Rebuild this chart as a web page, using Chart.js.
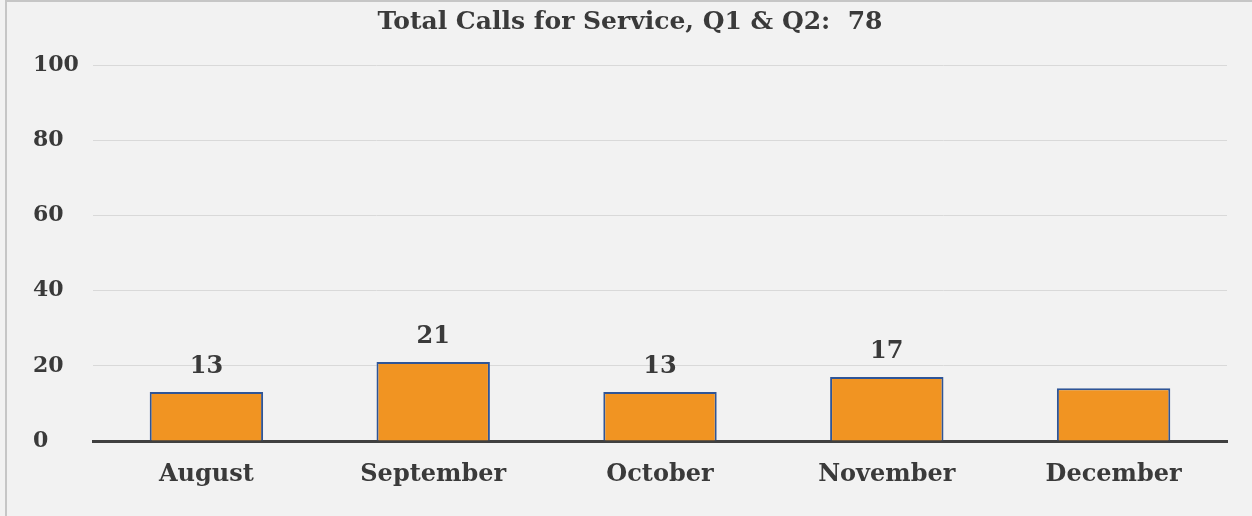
<!DOCTYPE html>
<html>
<head>
<meta charset="utf-8">
<script src="https://cdn.jsdelivr.net/npm/chart.js@4"></script>
<style>
  html, body { margin: 0; padding: 0; background: #f2f2f2; overflow: hidden; }
  #wrap { position: relative; width: 1252px; height: 516px; }
  #frame { position: absolute; left: 5px; top: 0; width: 1247px; height: 516px;
           border-left: 2px solid #c6c6c6; border-top: 2px solid #c6c6c6; box-sizing: border-box; pointer-events: none; }
  canvas { position: absolute; left: 0; top: 0; }
</style>
</head>
<body>
<div id="wrap">
  <canvas id="myChart" width="1252" height="516"></canvas>
  <div id="frame"></div>
</div>
<script>
var months = ['August', 'September', 'October', 'November', 'December'];
var calls = [13, 21, 13, 17, 14];
var valueLabels = ['13', '21', '13', '17', null];
var yTicks = [0, 20, 40, 60, 80, 100];
var chartTitle = 'Total Calls for Service, Q1 & Q2:  78';

var textColor = '#3a3a3a';
var fontFamily = '"DejaVu Serif", "Liberation Serif", serif';

var titlePlugin = {
    id: 'titleText',
    afterDraw: function (chart) {
        var ctx = chart.ctx;
        ctx.save();
        ctx.fillStyle = textColor;
        ctx.font = 'bold 25px ' + fontFamily;
        ctx.textAlign = 'center';
        ctx.textBaseline = 'middle';
        ctx.fillText(chartTitle, 630, 22);
        ctx.restore();
    }
};

var barLabels = {
    id: 'barLabels',
    afterDatasetsDraw: function (chart) {
        var ctx = chart.ctx;
        var meta = chart.getDatasetMeta(0);
        ctx.save();
        ctx.fillStyle = textColor;
        ctx.font = 'bold 24px ' + fontFamily;
        ctx.textAlign = 'center';
        ctx.textBaseline = 'middle';
        for (var i = 0; i < meta.data.length; i++) {
            if (valueLabels[i] == null) continue;
            var bar = meta.data[i];
            ctx.fillText(valueLabels[i], bar.x, bar.y - 25);
        }
        ctx.restore();
    }
};

function createChart() {
    var ctx = document.getElementById('myChart').getContext('2d');
    new Chart(ctx, {
        type: 'bar',
        data: {
            labels: months,
            datasets: [{
                data: calls,
                backgroundColor: '#f19422',
                borderColor: '#2f5597',
                borderWidth: 2,
                barPercentage: 0.5,
                categoryPercentage: 1.0
            }]
        },
        options: {
            responsive: false,
            animation: false,
            layout: { padding: { left: 33, right: 25, top: 65, bottom: 0 } },
            plugins: {
                legend: { display: false },
                title: { display: false },
                tooltip: { enabled: false }
            },
            scales: {
                x: {
                    grid: { display: false, drawTicks: false },
                    border: { display: true, color: '#404040', width: 3 },
                    ticks: {
                        color: textColor,
                        padding: 19,
                        font: { family: fontFamily, size: 24, weight: 'bold' }
                    },
                    afterFit: function (scale) { scale.height = 75; }
                },
                y: {
                    min: 0,
                    max: 100,
                    afterBuildTicks: function (scale) {
                        scale.ticks = yTicks.map(function (v) { return { value: v }; });
                    },
                    grid: { color: '#d9d9d9', lineWidth: 1, drawTicks: false },
                    border: { display: false },
                    ticks: {
                        color: textColor,
                        crossAlign: 'far',
                        padding: 0,
                        font: { family: fontFamily, size: 22, weight: 'bold' }
                    },
                    afterFit: function (scale) { scale.width = 60; }
                }
            }
        },
        plugins: [titlePlugin, barLabels]
    });
}
createChart();
</script>
</body>
</html>
